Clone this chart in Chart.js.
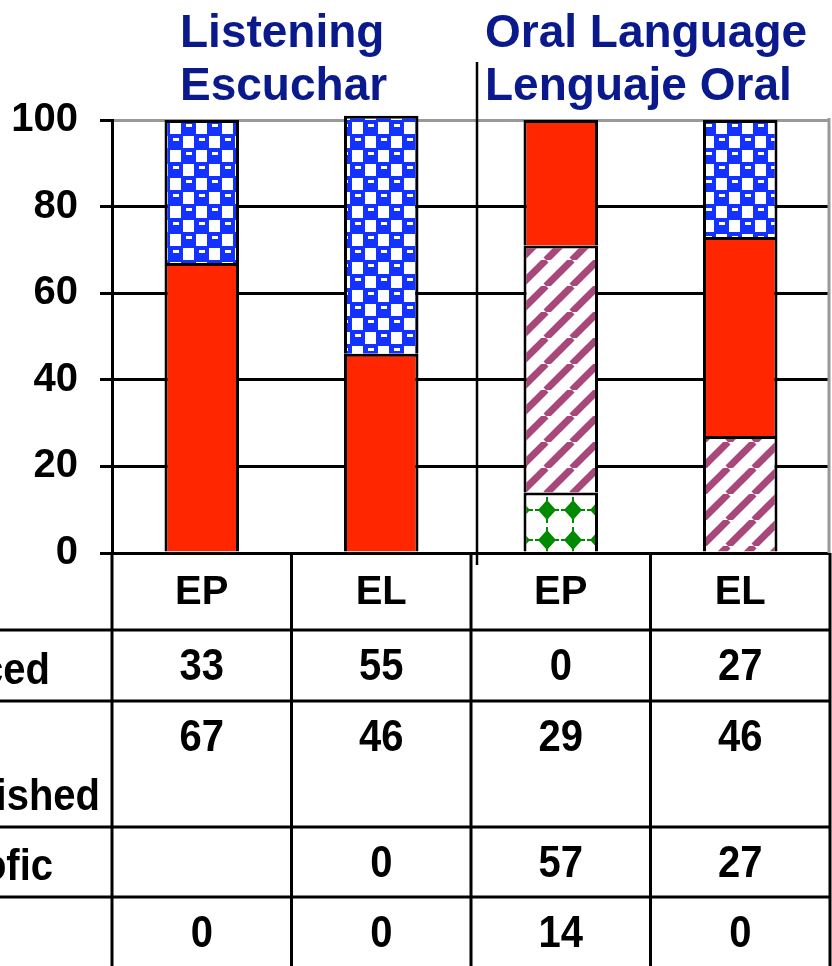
<!DOCTYPE html>
<html>
<head>
<meta charset="utf-8">
<script src="https://cdn.jsdelivr.net/npm/chart.js@4.4.1/dist/chart.umd.min.js"></script>
<style>
  html, body { margin: 0; padding: 0; background: #fff; }
  #wrap { width: 832px; height: 966px; }
</style>
</head>
<body>
<div id="wrap"><canvas id="chart" width="832" height="966"></canvas></div>
<script>
/* =========================================================
   DATA
========================================================= */
const categories = ["EP", "EL", "EP", "EL"];
const yTicks = [0, 20, 40, 60, 80, 100];

// stacked bottom -> top
const greenVals = [0, 0, 14, 0];
const purpleVals = [null, 0, 57, 27];
const redVals = [67, 46, 29, 46];
const blueVals = [33, 55, 0, 27];

const groupTitles = [["Listening", "Escuchar"], ["Oral Language", "Lenguaje Oral"]];
// row labels are cut off at the left edge of the picture
const rowLabels = ["ced", "ished", "ofic", ""];

/* =========================================================
   STYLE / LAYOUT
========================================================= */
const FONT = '"Liberation Sans", Arial, sans-serif';
const TITLE_BLUE = "#0a1a8c";
const RED = "#ff2600";
const BLUE = "#1331ff";
const PURPLE = "#a8477a";
const GREEN = "#008a00";

// table row edges (px) under the x axis
const rowEdges = [630, 701, 827, 897, 966];
const titleLefts = [180, 485];
const labelRights = [50, 100, 53, 0];

/* =========================================================
   PATTERNS
========================================================= */
function makeTile(w, h, draw, dx, dy) {
  const c = document.createElement("canvas");
  c.width = w;
  c.height = h;
  const g = c.getContext("2d");
  g.fillStyle = "#fff";
  g.fillRect(0, 0, w, h);
  draw(g, w, h);
  const p = document.getElementById("chart").getContext("2d").createPattern(c, "repeat");
  p.setTransform(new DOMMatrix().translate(dx || 0, dy || 0));
  return p;
}

// blue net with white square holes and small notches
const checker = makeTile(26, 28, (g) => {
  g.fillStyle = BLUE;
  g.fillRect(0, 0, 26, 28);
  g.fillStyle = "#fff";
  g.fillRect(14, 1, 11, 12);
  g.fillRect(1, 15, 11, 12);
  g.fillRect(4, 3, 6, 3);
  g.fillRect(17, 17, 6, 3);
}, 0, 9);

const stripes = makeTile(26, 26, (g, w, h) => {
  g.strokeStyle = PURPLE;
  g.lineWidth = 7;
  for (let k = -1; k <= 1; k++) {
    g.beginPath();
    g.moveTo(k * w, h);
    g.lineTo(k * w + w, 0);
    g.stroke();
  }
});

const diamonds = makeTile(26, 30, (g) => {
  g.fillStyle = GREEN;
  g.beginPath();
  g.moveTo(13, 5);
  g.lineTo(22, 15);
  g.lineTo(13, 25);
  g.lineTo(4, 15);
  g.closePath();
  g.fill();
  g.fillRect(12, 2, 2, 4);
  g.fillRect(12, 24, 2, 4);
  g.fillRect(1, 14, 4, 2);
  g.fillRect(21, 14, 4, 2);
}, -12, -15);

/* =========================================================
   OVERLAY PLUGIN (titles, divider, data table)
========================================================= */
function tallText(ctx, text, x, y) {
  ctx.save();
  ctx.translate(x, y);
  ctx.scale(1, 1.1);
  ctx.fillText(text, 0, 0);
  ctx.restore();
}

const overlay = {
  id: "overlay",
  afterDraw(chart) {
    const { ctx, chartArea: a } = chart;
    const xs = chart.scales.x;
    const centers = categories.map((_, i) => xs.getPixelForValue(i));

    ctx.save();

    // right plot border
    ctx.strokeStyle = "#999";
    ctx.lineWidth = 3;
    ctx.beginPath();
    ctx.moveTo(a.right - 1, a.top - 2);
    ctx.lineTo(a.right - 1, a.bottom);
    ctx.stroke();

    // group titles
    ctx.fillStyle = TITLE_BLUE;
    ctx.font = `bold 46px ${FONT}`;
    ctx.textAlign = "left";
    ctx.textBaseline = "alphabetic";
    groupTitles.forEach((lines, gi) => {
      lines.forEach((t, li) => ctx.fillText(t, titleLefts[gi], 47 + li * 53));
    });

    // group divider
    const divX = (centers[1] + centers[2]) / 2 + 6;
    ctx.strokeStyle = "#000";
    ctx.lineWidth = 2.5;
    ctx.beginPath();
    ctx.moveTo(divX, 62);
    ctx.lineTo(divX, a.bottom + 12);
    ctx.stroke();

    // table grid
    ctx.lineWidth = 3;
    const colEdges = [a.left];
    for (let i = 0; i < centers.length - 1; i++) colEdges.push((centers[i] + centers[i + 1]) / 2);
    colEdges.push(a.right);
    ctx.beginPath();
    colEdges.forEach(x => {
      ctx.moveTo(x, a.bottom);
      ctx.lineTo(x, chart.height);
    });
    rowEdges.slice(0, -1).forEach(y => {
      ctx.moveTo(0, y);
      ctx.lineTo(a.right, y);
    });
    ctx.stroke();

    // table values, rows top -> bottom
    const rows = [blueVals, redVals, purpleVals, greenVals];
    ctx.fillStyle = "#000";
    ctx.font = `bold 40px ${FONT}`;
    rows.forEach((vals, r) => {
      const top = rowEdges[r];
      const bottom = rowEdges[r + 1];
      ctx.textAlign = "center";
      vals.forEach((v, i) => {
        if (v === null) return;
        tallText(ctx, String(v), centers[i], top + 50);
      });
      if (rowLabels[r]) {
        ctx.textAlign = "right";
        tallText(ctx, rowLabels[r], labelRights[r], bottom - 17);
      }
    });

    ctx.restore();
  }
};

/* =========================================================
   CHART
========================================================= */
const ds = (data, bg) => ({
  data,
  backgroundColor: bg,
  borderColor: "#000",
  borderWidth: 3,
  borderSkipped: "start",
  clip: false
});

new Chart(document.getElementById("chart"), {
  type: "bar",
  data: {
    labels: categories,
    datasets: [
      ds(greenVals, diamonds),
      ds(purpleVals, stripes),
      ds(redVals, RED),
      ds(blueVals, checker)
    ]
  },
  options: {
    responsive: false,
    animation: false,
    devicePixelRatio: 1,
    layout: { padding: { top: 120, right: 2, left: 0, bottom: 0 } },
    datasets: { bar: { categoryPercentage: 1, barPercentage: 0.415 } },
    plugins: { legend: { display: false }, tooltip: { enabled: false } },
    scales: {
      x: {
        stacked: true,
        grid: { display: false, drawTicks: false },
        border: { display: false },
        ticks: { color: "#000", font: { family: FONT, size: 40, weight: "bold" }, padding: 16 },
        afterFit: s => { s.height = 966 - 553; }
      },
      y: {
        stacked: true,
        min: 0,
        max: 100,
        afterBuildTicks: s => { s.ticks = yTicks.map(v => ({ value: v })); },
        grid: {
          color: c => (c.tick && c.tick.value === 100 ? "#999" : "#000"),
          tickColor: "#000",
          lineWidth: 3,
          tickLength: 12
        },
        border: { color: "#000", width: 3 },
        ticks: { color: "#000", font: { family: FONT, size: 40, weight: "bold" }, padding: 22 },
        afterFit: s => { s.width = 112; }
      }
    }
  },
  plugins: [overlay]
});
</script>
</body>
</html>
